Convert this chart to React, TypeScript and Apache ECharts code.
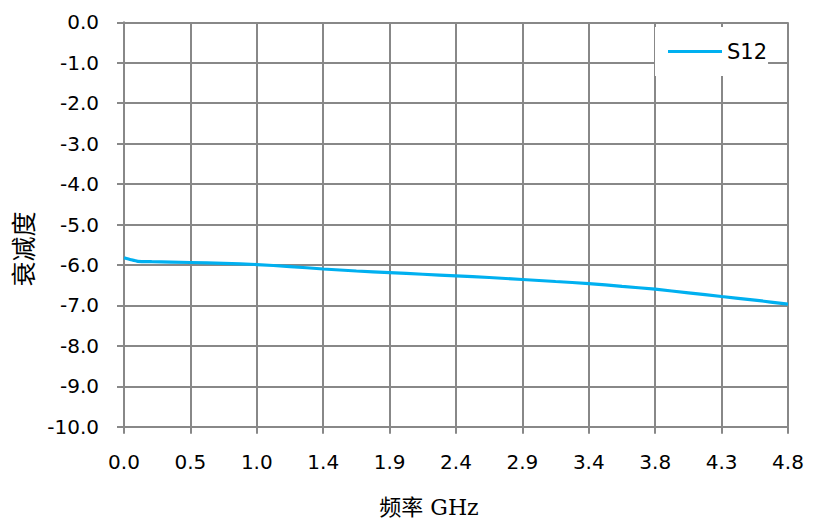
import React, { useEffect, useRef } from "react";
import * as echarts from "echarts";

const freqGHz = [0, 0.05, 0.1, 0.2, 0.48, 0.72, 0.96, 1.2, 1.44, 1.68, 1.92, 2.16, 2.4, 2.64, 2.88, 3.12, 3.36, 3.6, 3.84, 4.08, 4.32, 4.56, 4.8];
const s12 = [-5.82, -5.87, -5.91, -5.92, -5.94, -5.96, -5.99, -6.04, -6.1, -6.15, -6.19, -6.23, -6.27, -6.31, -6.36, -6.41, -6.46, -6.53, -6.6, -6.69, -6.78, -6.87, -6.97];
const xTickLabels = ["0.0", "0.5", "1.0", "1.4", "1.9", "2.4", "2.9", "3.4", "3.8", "4.3", "4.8"];
const yTickLabels = ["-10.0", "-9.0", "-8.0", "-7.0", "-6.0", "-5.0", "-4.0", "-3.0", "-2.0", "-1.0", "0.0"];
const seriesName = "S12";
const xTitle = "频率 GHz";
const yTitle = "衰减度";

const X_STEP = 0.48;
const GRAY = "#888888";
const FONT = '"DejaVu Sans", sans-serif';

export default function App() {
  const ref = useRef<HTMLDivElement>(null);
  useEffect(() => {
    if (!ref.current) return;
    const chart = echarts.init(ref.current, undefined, { renderer: "svg" });
    chart.setOption({
      animation: false,
      backgroundColor: "#ffffff",
      grid: { left: 124, right: 27, top: 22.3, bottom: 103.3, containLabel: false },
      legend: {
        data: [seriesName],
        left: 655,
        top: 27,
        orient: "horizontal",
        backgroundColor: "#ffffff",
        padding: [14, 1, 14, 13],
        icon: "rect",
        itemWidth: 54,
        itemHeight: 3,
        textStyle: { fontSize: 21, fontFamily: FONT, color: "#000000" },
      },
      xAxis: {
        type: "value",
        min: 0,
        max: 4.8,
        interval: X_STEP,
        axisLine: { onZero: false, lineStyle: { color: GRAY, width: 2 } },
        axisTick: { show: true, length: 7, lineStyle: { color: GRAY, width: 2 } },
        splitLine: { show: true, lineStyle: { color: GRAY, width: 2 } },
        axisLabel: {
          margin: 25,
          fontSize: 20,
          fontFamily: FONT,
          color: "#000000",
          formatter: (v: number) => xTickLabels[Math.round(v / X_STEP)] ?? "",
        },
      },
      yAxis: {
        type: "value",
        min: -10,
        max: 0,
        interval: 1,
        axisLine: { show: true, onZero: false, lineStyle: { color: GRAY, width: 2 } },
        axisTick: { show: true, length: 7, lineStyle: { color: GRAY, width: 2 } },
        splitLine: { show: true, lineStyle: { color: GRAY, width: 2 } },
        axisLabel: {
          margin: 25,
          fontSize: 20,
          fontFamily: FONT,
          color: "#000000",
          formatter: (v: number) => yTickLabels[Math.round(v + 10)] ?? "",
        },
      },
      series: [
        {
          name: seriesName,
          type: "line",
          data: freqGHz.map((f, i) => [f, s12[i]]),
          symbol: "none",
          smooth: 0.2,
          lineStyle: { color: "#00B0F0", width: 3.2 },
          itemStyle: { color: "#00B0F0" },
        },
      ],
      graphic: [
        {
          type: "text",
          x: 429,
          y: 507,
          style: {
            text: xTitle,
            fontSize: 22,
            fontFamily: '"DejaVu Serif", "Noto Sans CJK SC", serif',
            fill: "#000000",
            align: "center",
            verticalAlign: "middle",
          },
        },
        {
          type: "text",
          x: 22,
          y: 249,
          rotation: Math.PI / 2,
          style: {
            text: yTitle,
            fontSize: 25,
            fontFamily: '"Noto Sans CJK SC", serif',
            fill: "#000000",
            align: "center",
            verticalAlign: "middle",
          },
        },
      ],
    });
    return () => chart.dispose();
  }, []);
  return (
    <div
      ref={ref}
      style={{ position: "fixed", left: 0, top: 0, width: 815, height: 530, background: "#fff" }}
    />
  );
}
